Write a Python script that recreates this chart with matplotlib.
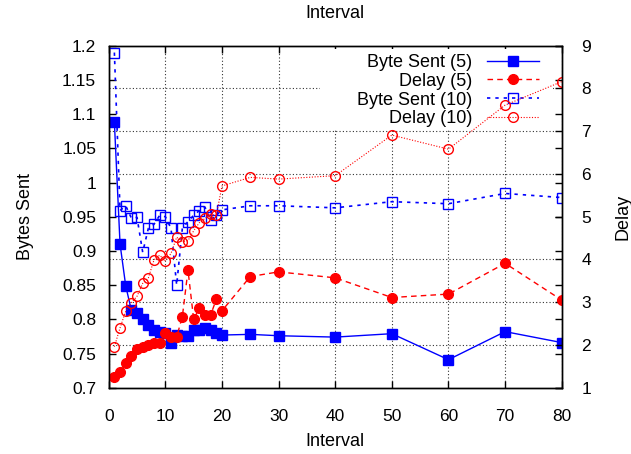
import numpy as np
import matplotlib.pyplot as plt
from matplotlib.ticker import FuncFormatter
from matplotlib.patches import Rectangle

plt.rcParams['font.family'] = ['Liberation Sans', 'DejaVu Sans']

# interval values
interval = [1, 2, 3, 4, 5, 6, 7, 8, 9, 10, 11, 12, 13, 14, 15, 16, 17, 18, 19, 20,
            25, 30, 40, 50, 60, 70, 80]

bytes5 = [1.088, 0.910, 0.849, 0.813, 0.809, 0.800, 0.792, 0.785, 0.781, 0.780,
          0.766, 0.777, 0.776, 0.775, 0.784, 0.785, 0.787, 0.785, 0.780, 0.777,
          0.778, 0.776, 0.774, 0.779, 0.741, 0.782, 0.766]
delay5 = [1.26, 1.36, 1.57, 1.75, 1.91, 1.95, 2.00, 2.05, 2.04, 2.27,
          2.19, 2.19, 2.66, 3.75, 2.60, 2.86, 2.70, 2.70, 3.07, 2.80,
          3.60, 3.71, 3.57, 3.11, 3.19, 3.91, 3.05]
bytes10 = [1.190, 0.959, 0.966, 0.948, 0.949, 0.898, 0.933, 0.939, 0.952, 0.950,
           0.933, 0.850, 0.933, 0.943, 0.952, 0.959, 0.964, 0.945, 0.952, 0.960,
           0.966, 0.966, 0.963, 0.972, 0.969, 0.984, 0.978]
delay10 = [1.96, 2.40, 2.79, 2.99, 3.14, 3.44, 3.57, 3.99, 4.10, 3.97,
           4.14, 4.52, 4.42, 4.44, 4.67, 4.86, 4.96, 5.06, 5.03, 5.72,
           5.92, 5.88, 5.96, 6.91, 6.58, 7.61, 8.16]

fs = 12.5   # tick labels
fl = 13     # axis labels and key

fig = plt.figure(figsize=(6.31, 4.54), dpi=100)
ax = fig.add_axes([0.1723, 0.146, 0.7179, 0.7533])
ax2 = ax.twinx()

ax.set_xlim(0, 80)
ax.set_ylim(0.7, 1.2)
ax2.set_ylim(1, 9)
ax.set_xticks(np.arange(0, 81, 10))
ax.set_yticks(np.arange(0.7, 1.201, 0.05))
ax2.set_yticks(np.arange(1, 10, 1))
# horizontal grid follows the right axis ticks
ax.set_yticks(np.linspace(0.7, 1.2, 9), minor=True)
ax.yaxis.set_major_formatter(FuncFormatter(lambda v, p: '%g' % round(v, 2)))

gridkw = dict(color='black', linestyle=(0, (1, 2)), linewidth=0.8, alpha=0.8)
ax.grid(axis='x', which='major', **gridkw)
ax.grid(axis='y', which='minor', **gridkw)
ax.set_axisbelow(True)

ax.tick_params(axis='x', direction='in', top=True, length=5, width=1, labelsize=fs, pad=15)
ax.tick_params(axis='y', which='major', direction='in', right=True, length=5, width=1,
               labelsize=fs, pad=9)
ax.tick_params(axis='y', which='minor', length=0)
ax2.tick_params(axis='y', direction='in', length=5, width=1, labelsize=fs, pad=14)

for a in (ax, ax2):
    for s in a.spines.values():
        s.set_linewidth(1)

# key background hides the grid, not the data
ax.add_patch(Rectangle((0.466, 0.757), 0.515, 0.232, transform=ax.transAxes,
                       facecolor='white', edgecolor='none', zorder=0.9))

l1, = ax.plot(interval, bytes5, color='#0000ff', lw=1, ls='-', marker='s', ms=6.5,
              label='Byte Sent (5)')
l3, = ax.plot(interval, bytes10, color='#0000ff', lw=1.2, ls=(0, (2, 3)), marker='s', ms=6.5,
              mfc='none', mew=1, label='Byte Sent (10)')
l2, = ax2.plot(interval, delay5, color='#ff0000', lw=1, ls=(0, (4, 3)), marker='o', ms=7,
               label='Delay (5)')
l4, = ax2.plot(interval, delay10, color='#ff0000', lw=0.8, ls=(0, (1, 1.5)), marker='o', ms=7,
               mfc='none', mew=1, label='Delay (10)')

ax.set_xlabel('Interval', fontsize=fl, labelpad=7)
ax.set_ylabel('Bytes Sent', fontsize=fl, labelpad=20)
ax2.set_ylabel('Delay', fontsize=fl, labelpad=17)
ax.set_title('Interval', fontsize=fl, pad=20)

leg = ax2.legend(handles=[l1, l2, l3, l4], loc='upper right', bbox_to_anchor=(0.950, 0.976),
                 markerfirst=False, fontsize=fl, frameon=False, labelspacing=0.1,
                 handlelength=2.9, handletextpad=0.78, borderaxespad=0, borderpad=0)
leg.set_zorder(1)

fig.savefig('out.png', dpi=100)
